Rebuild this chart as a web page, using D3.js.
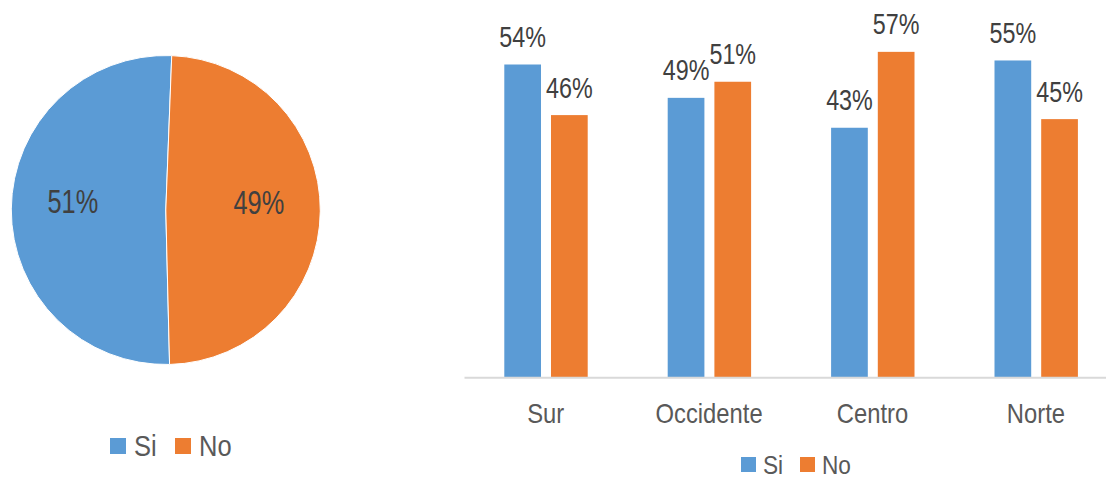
<!DOCTYPE html>
<html>
<head>
<meta charset="utf-8">
<script src="https://cdn.jsdelivr.net/npm/d3@7"></script>
<style>
  body { margin: 0; background: #fff; }
  svg { display: block; font-family: "Liberation Sans", Arial, sans-serif; }
</style>
</head>
<body>
<script>
// data
const seriesNames = ["Si", "No"];
const pieValues = [0.51, 0.49];
const categories = ["Sur", "Occidente", "Centro", "Norte"];
const siValues = [0.544, 0.486, 0.434, 0.551];
const noValues = [0.456, 0.514, 0.566, 0.449];
const colors = ["#5B9BD5", "#ED7D31"];

const width = 1106, height = 480;
const fmt = d3.format(".0%");

const svg = d3.select("body").append("svg")
  .attr("width", width)
  .attr("height", height);

// ---- pie ----
const pieG = svg.append("g").attr("transform", "translate(165.8,210)");
const radius = 154.5;
const start = 178.6 * Math.PI / 180;

const pie = d3.pie().sort(null).startAngle(start).endAngle(start + 2 * Math.PI);
const arc = d3.arc().innerRadius(0).outerRadius(radius);
const labelArc = d3.arc().innerRadius(93).outerRadius(93);

const slices = pie(pieValues);

pieG.selectAll("path")
  .data(slices)
  .enter()
  .append("path")
  .attr("d", arc)
  .attr("fill", (d, i) => colors[i])
  .attr("stroke", "#fff")
  .attr("stroke-width", 1);

pieG.selectAll("text")
  .data(slices)
  .enter()
  .append("text")
  .attr("transform", d => {
    const c = labelArc.centroid(d);
    return `translate(${c[0]},${c[1] + 3.3}) scale(0.78,1)`;
  })
  .attr("text-anchor", "middle")
  .attr("font-size", 32.5)
  .attr("fill", "#404040")
  .text(d => fmt(d.data));

// pie legend
const pieLegend = svg.append("g");
const pieLegX = [110, 175];
seriesNames.forEach((name, i) => {
  pieLegend.append("rect")
    .attr("x", pieLegX[i]).attr("y", 438)
    .attr("width", 16).attr("height", 16)
    .attr("fill", colors[i]);
  pieLegend.append("text")
    .attr("transform", `translate(${pieLegX[i] + 24},456) scale(0.85,1)`)
    .attr("font-size", 30)
    .attr("fill", "#595959")
    .text(name);
});

// ---- bars ----
const baseY = 377.3;
const x = d3.scaleBand()
  .domain(categories)
  .range([464, 1117.6])
  .padding(0);

const x1 = d3.scaleBand()
  .domain(seriesNames)
  .range([40.3, 123.7])
  .paddingInner(0.214)
  .paddingOuter(0);

const y = d3.scaleLinear()
  .domain([0, 0.6])
  .range([baseY, baseY - 345]);

const rows = categories.map((c, i) => ({cat: c, vals: [siValues[i], noValues[i]]}));

const groups = svg.append("g")
  .selectAll("g")
  .data(rows)
  .enter()
  .append("g")
  .attr("transform", d => `translate(${x(d.cat)},0)`);

groups.selectAll("rect")
  .data(d => d.vals.map((v, i) => ({key: seriesNames[i], v: v, i: i})))
  .enter()
  .append("rect")
  .attr("x", d => x1(d.key))
  .attr("y", d => y(d.v))
  .attr("width", x1.bandwidth())
  .attr("height", d => y(0) - y(d.v))
  .attr("fill", d => colors[d.i]);

groups.selectAll("text")
  .data(d => d.vals.map((v, i) => ({key: seriesNames[i], v: v, i: i})))
  .enter()
  .append("text")
  .attr("transform", d => `translate(${x1(d.key) + x1.bandwidth() / 2},${y(d.v) - 17.4}) scale(0.79,1)`)
  .attr("text-anchor", "middle")
  .attr("font-size", 29.5)
  .attr("fill", "#404040")
  .text(d => fmt(d.v));

// x axis
const xAxis = svg.append("g")
  .attr("transform", `translate(0,${baseY})`)
  .call(d3.axisBottom(x).tickSize(0).tickSizeOuter(0).tickPadding(26));

xAxis.select(".domain")
  .attr("stroke", "#D9D9D9")
  .attr("stroke-width", 2);

xAxis.selectAll(".tick text")
  .attr("font-size", 28)
  .attr("font-family", "Liberation Sans, Arial, sans-serif")
  .attr("fill", "#595959")
  .attr("transform", "scale(0.85,1)");

// bar legend, kept inside the bottom edge
const barLegend = svg.append("g");
const barLegX = [741, 800];
seriesNames.forEach((name, i) => {
  barLegend.append("rect")
    .attr("x", barLegX[i]).attr("y", 457)
    .attr("width", 15).attr("height", 15)
    .attr("fill", colors[i]);
  barLegend.append("text")
    .attr("transform", `translate(${barLegX[i] + 22},473.5) scale(0.87,1)`)
    .attr("font-size", 26)
    .attr("fill", "#595959")
    .text(name);
});
</script>
</body>
</html>
